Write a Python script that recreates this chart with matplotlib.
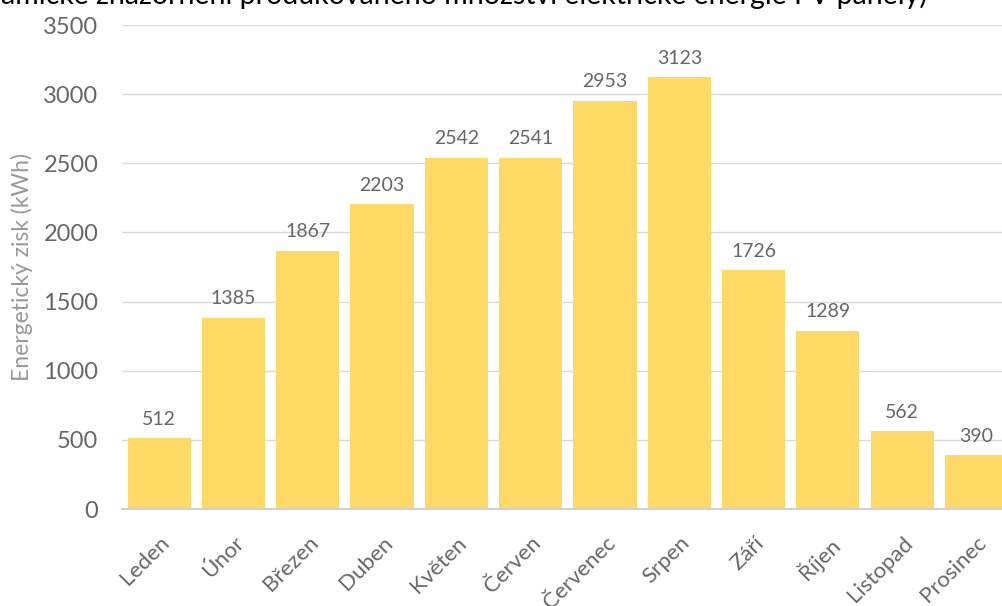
import matplotlib.pyplot as plt

# monthly energy yield of the PV panels
months = ["Leden", "Únor", "Březen", "Duben", "Květen", "Červen",
          "Červenec", "Srpen", "Září", "Říjen", "Listopad", "Prosinec"]
energy = [512, 1385, 1867, 2203, 2542, 2541, 2953, 3123, 1726, 1289, 562, 390]
yticks = [0, 500, 1000, 1500, 2000, 2500, 3000, 3500]

plt.rcParams["font.family"] = ["Lato", "DejaVu Sans"]

fig = plt.figure(figsize=(10.03, 6.06), dpi=100)
ax = fig.add_axes([0.1216, 0.160, 0.889, 0.7987])

x = range(len(months))
ax.bar(x, energy, width=0.85, color="#FFD966", zorder=2)

for xi, v in zip(x, energy):
    ax.text(xi, v + 75, str(v), ha="center", va="bottom",
            fontsize=14, color="#666666")

ax.set_xlim(-0.5, len(months) - 0.5)
ax.set_ylim(0, 3500)
ax.set_yticks(yticks)
ax.set_xticks(list(x))
ax.set_xticklabels(months, rotation=45, ha="right", rotation_mode="anchor",
                   fontsize=16, color="#666666")
ax.tick_params(axis="y", labelsize=17, labelcolor="#666666", length=0, pad=17)
ax.tick_params(axis="x", length=0, pad=17)

ax.grid(axis="y", color="#D9D9D9", linewidth=1, zorder=0)
for side in ["top", "right", "left"]:
    ax.spines[side].set_visible(False)
ax.spines["bottom"].set_color("#D0D0D0")
ax.spines["bottom"].set_linewidth(1.5)

fig.text(0.022, 0.559, "Energetický zisk (kWh)", rotation=90, ha="center",
         va="center", fontsize=16.5, color="#999999")

fig.text(0.924, 0.993,
         "(Dynamické znázornění produkovaného množství elektrické energie FV panely)",
         ha="right", va="baseline", fontsize=20.5, color="black")

fig.savefig("out.png", dpi=100)
